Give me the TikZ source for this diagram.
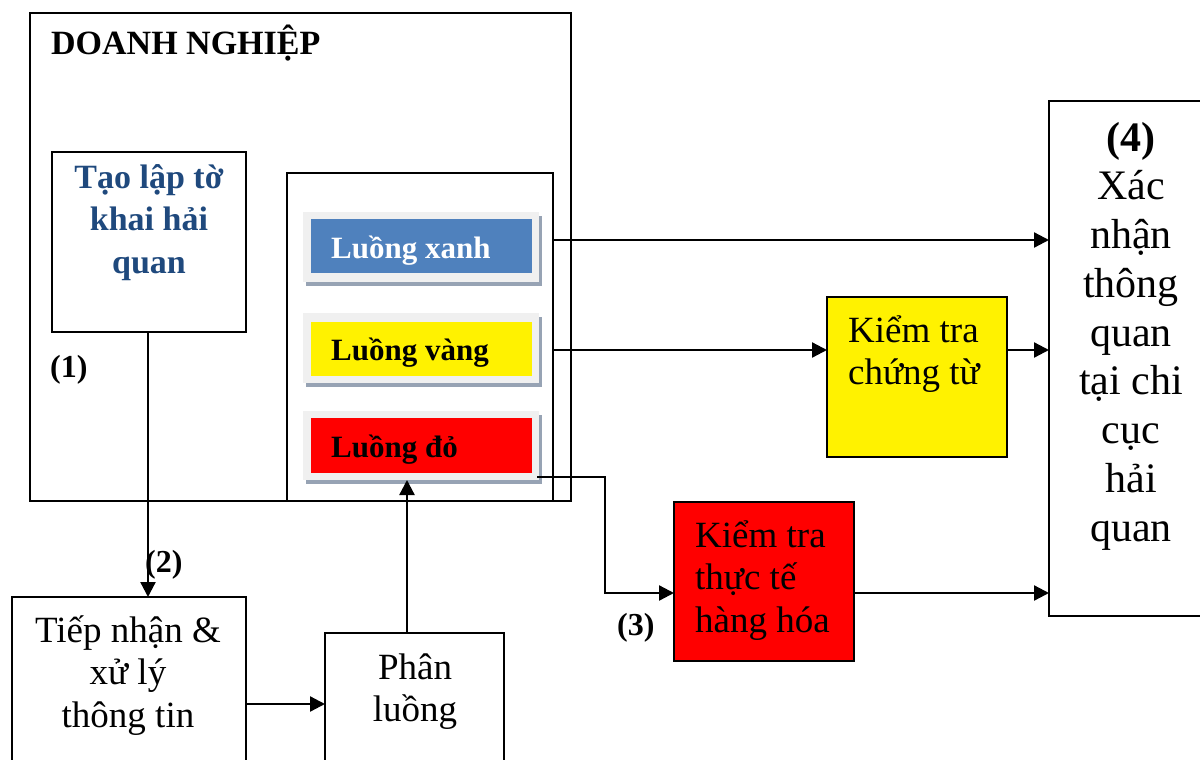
\documentclass[tikz,border=0pt]{standalone}
\usepackage{fontspec}
\setmainfont{Liberation Serif}
\usetikzlibrary{arrows.meta,calc}

\definecolor{laneblue}{HTML}{4F81BD}
\definecolor{titleblue}{HTML}{1F497D}
\definecolor{bevel}{HTML}{F0F0F0}
\definecolor{bevelshade}{HTML}{97A3B4}

% multi-line text blocks whose baseline is the first line, fixed line pitch
\newcommand{\ctab}[1]{\vtop{\lineskiplimit=-\maxdimen\let\\\cr\halign{\hfil##\hfil\cr#1\crcr}}}
\newcommand{\ltab}[1]{\vtop{\lineskiplimit=-\maxdimen\let\\\cr\halign{##\hfil\cr#1\crcr}}}

\tikzset{
  box/.style={draw=black, line width=2pt, inner sep=0pt, outer sep=0pt, anchor=north west},
  flat/.style={inner sep=0pt, outer sep=0pt, anchor=north west},
  arr/.style={line width=2.3pt, -{Triangle[length=15pt,width=15pt]}},
  body/.style={inner sep=0pt, font=\fontsize{37}{42.5}\selectfont},
  tag/.style={inner sep=0pt, anchor=base west, font=\bfseries\fontsize{32}{38}\selectfont},
  lanetxt/.style={inner sep=0pt, anchor=base west, font=\bfseries\fontsize{31}{36}\selectfont},
}

\begin{document}
\begin{tikzpicture}[x=1pt,y=-1pt]
\useasboundingbox (0,0) rectangle (1200,760);
\clip (0,0) rectangle (1200,760);

% enterprise frame and its parts
\node[box, minimum width=541pt, minimum height=488pt] (firm) at (30,13) {};
\node[inner sep=0pt, anchor=base west, font=\bfseries\fontsize{34}{40}\selectfont] (firmtitle) at (51,55) {DOANH NGHIỆP};

\node[box, minimum width=194pt, minimum height=180pt] (tao) at (52,152) {};
\node[inner sep=0pt, anchor=base, text=titleblue, font=\bfseries\fontsize{34}{42.5}\selectfont] (taotxt) at (149,188)
  {\ctab{Tạo lập tờ\\khai hải\\quan}};
\node[tag] (tag1) at (50,377) {(1)};

\node[box, minimum width=266pt, minimum height=328pt] (lanes) at (287,173) {};

% lane buttons: drop shadow, bevel, coloured face
\node[flat, fill=bevelshade, minimum width=236pt, minimum height=70pt] (xanhS) at (306,216) {};
\node[flat, fill=bevel, minimum width=236pt, minimum height=70pt] (xanhO) at (303,212) {};
\node[flat, fill=laneblue, minimum width=221pt, minimum height=54pt] (xanh) at (311,219) {};
\node[lanetxt, text=white] (xanhtxt) at (331,258) {Luồng xanh};

\node[flat, fill=bevelshade, minimum width=236pt, minimum height=70pt] (vangS) at (306,317) {};
\node[flat, fill=bevel, minimum width=236pt, minimum height=70pt] (vangO) at (303,313) {};
\node[flat, fill=yellow, minimum width=221pt, minimum height=54pt] (vang) at (311,322) {};
\node[lanetxt] (vangtxt) at (331,360) {Luồng vàng};

\node[flat, fill=bevelshade, minimum width=236pt, minimum height=69pt] (doS) at (306,415) {};
\node[flat, fill=bevel, minimum width=236pt, minimum height=69pt] (doO) at (303,411) {};
\node[flat, fill=red, minimum width=221pt, minimum height=55pt] (do) at (311,418) {};
\node[lanetxt] (dotxt) at (331,457) {Luồng đỏ};
\coordinate (doTap) at (537,477);

% processing steps
\node[box, minimum width=234pt, minimum height=250pt] (tiep) at (12,597) {};
\node[body, anchor=base] (tieptxt) at (128,642) {\ctab{Tiếp nhận \&\\xử lý\\thông tin}};
\node[tag] (tag2) at (145,572) {(2)};

\node[box, minimum width=179pt, minimum height=200pt] (phan) at (325,633) {};
\node[body, anchor=base] (phantxt) at (415,679) {\ctab{Phân\\luồng}};

\node[box, fill=yellow, minimum width=180pt, minimum height=160pt] (docs) at (827,297) {};
\node[body, anchor=base west] (docstxt) at (848,342) {\ltab{Kiểm tra\\chứng từ}};

\node[box, fill=red, minimum width=180pt, minimum height=159pt] (goods) at (674,502) {};
\node[body, anchor=base west] (goodstxt) at (695,547) {\ltab{Kiểm tra\\thực tế\\hàng hóa}};
\node[tag] (tag3) at (617,635) {(3)};

\node[box, minimum width=200pt, minimum height=515pt] (confirm) at (1049,101) {};
\node[inner sep=0pt, anchor=base, font=\fontsize{42}{48.8}\selectfont] (confirmtxt) at (1131,151)
  {\ctab{\textbf{(4)}\\Xác\\nhận\\thông\\quan\\tại chi\\cục\\hải\\quan}};

% connectors
\draw[arr] (tao.south -| 148,0) -- (tiep.north -| 148,0);
\draw[arr] (tiep.east |- 0,704) -- (phan.west |- 0,704);
\draw[arr] (phan.north -| 407,0) -- (doO.south -| 407,0);
\draw[arr] (lanes.east |- 0,240) -- (confirm.west |- 0,240);
\draw[arr] (lanes.east |- 0,350) -- (docs.west |- 0,350);
\draw[arr] (docs.east |- 0,350) -- (confirm.west |- 0,350);
\draw[arr] (doTap) -- (605,477) |- (goods.west |- 0,593);
\draw[arr] (goods.east |- 0,593) -- (confirm.west |- 0,593);
\end{tikzpicture}
\end{document}
